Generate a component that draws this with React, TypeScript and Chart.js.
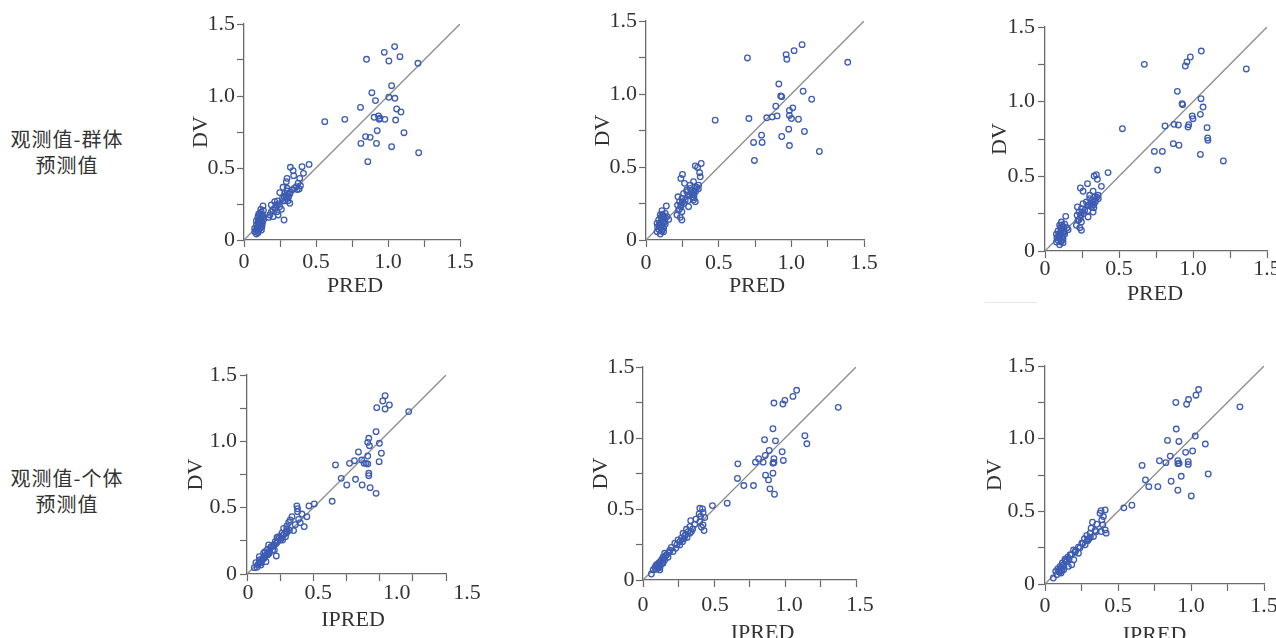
import React, { useEffect, useRef } from 'react';
import { Chart, registerables } from 'chart.js';

Chart.register(...registerables);

// ---------------- data ----------------
const AXIS_MIN = 0;
const AXIS_MAX = 1.5;
const TICK_STEP = 0.25;
const LABELED_TICKS = [0, 0.5, 1.0, 1.5];
const TICK_LABELS = ['0', '0.5', '1.0', '1.5'];
const IDENTITY_LINE = [0, 1.5];
const Y_TITLE = 'DV';
const X_TITLES = ['PRED', 'PRED', 'PRED', 'IPRED', 'IPRED', 'IPRED'];
const ROW_LABELS = [
  ['观测值-群体', '预测值'],
  ['观测值-个体', '预测值'],
];

// Panel 1: DV vs PRED
const P1_X = [
  1.046, 0.974, 1.083, 0.851, 1.006, 1.208, 1.025, 0.888, 1.006, 1.048, 0.913, 0.809, 1.060, 1.090, 0.561, 0.700,
  0.904, 0.934, 0.944, 0.939, 0.978, 1.053, 0.925, 1.111, 0.844, 0.876, 0.812, 0.920, 1.025, 1.213, 0.860,
  0.452, 0.403, 0.322, 0.341, 0.413, 0.299, 0.294, 0.345, 0.387, 0.376, 0.392, 0.364, 0.383, 0.271, 0.299, 0.334,
  0.248, 0.283, 0.318, 0.294, 0.267, 0.306, 0.283, 0.232, 0.213, 0.318, 0.225, 0.190, 0.248, 0.213, 0.260, 0.190,
  0.230, 0.179, 0.237, 0.202, 0.172, 0.278,
  0.290, 0.300, 0.310, 0.280, 0.320, 0.300, 0.350, 0.370, 0.270, 0.240, 0.220, 0.200,
  0.132, 0.116, 0.109, 0.121, 0.097, 0.132, 0.109, 0.086, 0.121, 0.097, 0.128, 0.086, 0.109, 0.074, 0.113, 0.086,
  0.121, 0.074, 0.097, 0.086, 0.109, 0.137, 0.097, 0.125, 0.104,
  0.115, 0.100, 0.125, 0.090, 0.118, 0.105, 0.130, 0.112, 0.095, 0.120, 0.135, 0.102,
];
const P1_Y = [
  1.343, 1.303, 1.273, 1.255, 1.243, 1.227, 1.072, 1.023, 0.991, 0.984, 0.968, 0.921, 0.910, 0.889, 0.822, 0.838,
  0.852, 0.861, 0.845, 0.838, 0.838, 0.833, 0.759, 0.745, 0.718, 0.713, 0.671, 0.671, 0.648, 0.606, 0.544,
  0.525, 0.509, 0.505, 0.481, 0.463, 0.428, 0.405, 0.447, 0.428, 0.394, 0.377, 0.370, 0.354, 0.366, 0.359, 0.347,
  0.329, 0.324, 0.319, 0.301, 0.289, 0.273, 0.273, 0.271, 0.266, 0.255, 0.243, 0.243, 0.231, 0.220, 0.213, 0.197,
  0.197, 0.174, 0.174, 0.162, 0.157, 0.139,
  0.310, 0.290, 0.300, 0.300, 0.330, 0.340, 0.360, 0.350, 0.270, 0.250, 0.220, 0.210,
  0.236, 0.213, 0.185, 0.174, 0.162, 0.157, 0.144, 0.134, 0.134, 0.116, 0.116, 0.104, 0.097, 0.081, 0.081, 0.069,
  0.069, 0.058, 0.051, 0.042, 0.127, 0.144, 0.093, 0.093, 0.111,
  0.150, 0.140, 0.125, 0.088, 0.105, 0.075, 0.170, 0.165, 0.060, 0.195, 0.205, 0.180,
];

// Panel 2: DV vs PRED
const P2_X = [
  1.074, 1.019, 0.964, 0.969, 0.698, 1.388, 0.914, 0.927, 0.934, 1.081, 1.140, 0.893, 1.010, 0.987, 0.987, 1.001,
  1.049, 0.902, 0.868, 0.831, 0.708, 0.476, 0.982, 1.090, 0.934, 0.795, 0.799, 0.740, 0.987, 1.193, 0.746,
  0.380, 0.339, 0.355, 0.369, 0.251, 0.240, 0.373, 0.327, 0.265, 0.362, 0.339, 0.304, 0.281, 0.327, 0.259, 0.293,
  0.316, 0.220, 0.247, 0.270, 0.327, 0.231, 0.339, 0.217, 0.240, 0.293, 0.224, 0.247, 0.213, 0.236, 0.247, 0.281,
  0.304, 0.316,
  0.140, 0.110, 0.133, 0.098, 0.144, 0.110, 0.087, 0.126, 0.098, 0.133, 0.080, 0.117, 0.087, 0.110, 0.076, 0.098,
  0.121, 0.094, 0.103, 0.121, 0.156, 0.076, 0.121,
  0.105, 0.118, 0.125, 0.092, 0.113, 0.130, 0.100, 0.108, 0.300, 0.320, 0.350, 0.330, 0.290, 0.260,
  0.240, 0.250, 0.230, 0.330, 0.340, 0.360,
];
const P2_Y = [
  1.338, 1.297, 1.270, 1.238, 1.247, 1.217, 1.069, 0.987, 0.982, 1.019, 0.964, 0.916, 0.905, 0.887, 0.853, 0.832,
  0.827, 0.850, 0.843, 0.837, 0.832, 0.821, 0.759, 0.743, 0.709, 0.718, 0.668, 0.668, 0.647, 0.606, 0.545,
  0.524, 0.508, 0.497, 0.461, 0.449, 0.422, 0.433, 0.399, 0.388, 0.376, 0.365, 0.353, 0.342, 0.331, 0.319, 0.308,
  0.296, 0.296, 0.285, 0.274, 0.274, 0.262, 0.262, 0.239, 0.228, 0.228, 0.205, 0.194, 0.171, 0.155, 0.137, 0.331,
  0.376, 0.319,
  0.233, 0.201, 0.182, 0.171, 0.160, 0.148, 0.137, 0.132, 0.114, 0.109, 0.091, 0.091, 0.073, 0.068, 0.057, 0.041,
  0.057, 0.096, 0.155, 0.164, 0.141, 0.114, 0.080,
  0.125, 0.118, 0.150, 0.105, 0.175, 0.125, 0.085, 0.060, 0.310, 0.340, 0.360, 0.290, 0.270, 0.250,
  0.240, 0.260, 0.210, 0.310, 0.330, 0.350,
];

// Panel 3: DV vs PRED
const P3_X = [
  1.056, 0.982, 0.959, 0.948, 0.671, 1.360, 0.894, 0.926, 0.930, 1.054, 1.068, 0.995, 1.050, 1.000, 0.872, 0.901,
  0.971, 0.966, 1.095, 0.811, 0.523, 1.099, 1.101, 0.867, 0.905, 0.739, 0.793, 1.050, 1.205, 0.761,
  0.426, 0.347, 0.332, 0.354, 0.287, 0.239, 0.257, 0.325, 0.381, 0.359, 0.336, 0.302, 0.280, 0.325, 0.257, 0.291,
  0.314, 0.219, 0.246, 0.268, 0.325, 0.230, 0.217, 0.239, 0.291, 0.223, 0.246, 0.212, 0.235, 0.246, 0.302, 0.314,
  0.140, 0.111, 0.133, 0.099, 0.149, 0.111, 0.088, 0.126, 0.099, 0.133, 0.081, 0.117, 0.088, 0.111, 0.077, 0.099,
  0.122, 0.095, 0.104, 0.122, 0.156, 0.077, 0.122,
  0.105, 0.118, 0.125, 0.092, 0.113, 0.130, 0.100, 0.108, 0.300, 0.320, 0.350, 0.330, 0.290, 0.260,
  0.240, 0.250, 0.230, 0.330, 0.340, 0.360,
];
const P3_Y = [
  1.339, 1.299, 1.266, 1.239, 1.250, 1.219, 1.069, 0.987, 0.980, 1.020, 0.964, 0.904, 0.915, 0.886, 0.848, 0.844,
  0.846, 0.830, 0.826, 0.837, 0.819, 0.757, 0.741, 0.719, 0.708, 0.667, 0.667, 0.647, 0.603, 0.542,
  0.525, 0.511, 0.502, 0.480, 0.451, 0.422, 0.400, 0.400, 0.433, 0.373, 0.362, 0.351, 0.328, 0.328, 0.317, 0.306,
  0.295, 0.295, 0.284, 0.273, 0.261, 0.261, 0.239, 0.223, 0.228, 0.206, 0.194, 0.172, 0.156, 0.139, 0.373, 0.317,
  0.232, 0.194, 0.179, 0.172, 0.156, 0.150, 0.134, 0.134, 0.112, 0.112, 0.089, 0.094, 0.072, 0.067, 0.060, 0.042,
  0.056, 0.098, 0.156, 0.165, 0.143, 0.112, 0.078,
  0.125, 0.118, 0.150, 0.105, 0.175, 0.125, 0.085, 0.060, 0.310, 0.340, 0.360, 0.290, 0.270, 0.250,
  0.240, 0.260, 0.210, 0.310, 0.330, 0.350,
];

// Panel 4: DV vs IPRED
const P4_X = [
  1.041, 1.023, 1.073, 0.978, 1.041, 1.219, 0.973, 0.918, 0.910, 0.998, 0.923, 0.840, 1.013, 0.910, 0.865, 0.810,
  0.898, 0.883, 0.910, 0.773, 0.996, 0.667, 0.918, 0.918, 0.710, 0.818, 0.752, 0.868, 0.928, 0.973, 0.642,
  0.507, 0.467, 0.376, 0.381, 0.451, 0.414, 0.339, 0.381, 0.389, 0.401, 0.431, 0.364, 0.351, 0.314, 0.326, 0.301,
  0.276, 0.296, 0.263, 0.238, 0.251, 0.213, 0.226, 0.221, 0.201, 0.181, 0.163, 0.206,
  0.055, 0.080, 0.105, 0.093, 0.118, 0.130, 0.143, 0.155, 0.168, 0.135, 0.193, 0.181, 0.206, 0.105, 0.067, 0.125,
  0.230, 0.243, 0.268, 0.093, 0.075, 0.155,
  0.110, 0.120, 0.140, 0.100, 0.160, 0.090, 0.130, 0.150, 0.170, 0.200, 0.220, 0.260, 0.280, 0.300, 0.290, 0.320,
  0.300, 0.270,
];
const P4_Y = [
  1.344, 1.304, 1.274, 1.254, 1.244, 1.224, 1.073, 1.023, 0.992, 0.985, 0.967, 0.920, 0.910, 0.889, 0.859, 0.854,
  0.834, 0.834, 0.829, 0.834, 0.847, 0.822, 0.759, 0.741, 0.721, 0.714, 0.671, 0.671, 0.651, 0.608, 0.548,
  0.528, 0.513, 0.513, 0.492, 0.432, 0.452, 0.432, 0.470, 0.412, 0.387, 0.357, 0.372, 0.327, 0.389, 0.407, 0.362,
  0.344, 0.319, 0.307, 0.281, 0.256, 0.244, 0.276, 0.136, 0.219, 0.201, 0.219, 0.181,
  0.048, 0.068, 0.085, 0.106, 0.118, 0.131, 0.093, 0.143, 0.156, 0.168, 0.181, 0.206, 0.219, 0.068, 0.085, 0.156,
  0.244, 0.269, 0.256, 0.131, 0.050, 0.186,
  0.100, 0.110, 0.140, 0.090, 0.160, 0.080, 0.120, 0.150, 0.170, 0.210, 0.230, 0.270, 0.300, 0.310, 0.280, 0.330,
  0.340, 0.290,
];

// Panel 5: DV vs IPRED
const P5_X = [
  1.082, 1.056, 0.999, 0.922, 0.985, 1.375, 0.915, 0.856, 0.933, 1.140, 1.154, 0.889, 0.980, 0.861, 0.814, 0.792,
  0.846, 0.922, 0.915, 0.922, 0.988, 0.668, 0.915, 0.863, 0.665, 0.884, 0.710, 0.778, 0.894, 0.926, 0.593, 0.489,
  0.400, 0.419, 0.423, 0.395, 0.405, 0.435, 0.336, 0.372, 0.400, 0.423, 0.412, 0.430, 0.365, 0.330, 0.306, 0.318,
  0.282, 0.294, 0.271, 0.278, 0.247, 0.224, 0.231, 0.200, 0.188, 0.153, 0.165, 0.141, 0.130, 0.113, 0.094, 0.083,
  0.071, 0.059, 0.106, 0.122, 0.153, 0.176, 0.141, 0.118, 0.212, 0.259, 0.341,
  0.100, 0.110, 0.125, 0.135, 0.090, 0.145, 0.160, 0.180, 0.120, 0.100, 0.300, 0.310, 0.290, 0.330, 0.350, 0.260,
  0.240, 0.190,
];
const P5_Y = [
  1.336, 1.293, 1.265, 1.246, 1.239, 1.216, 1.065, 0.988, 0.980, 1.016, 0.959, 0.912, 0.903, 0.877, 0.854, 0.830,
  0.830, 0.854, 0.823, 0.828, 0.842, 0.818, 0.752, 0.738, 0.715, 0.705, 0.665, 0.665, 0.642, 0.604, 0.541, 0.524,
  0.505, 0.501, 0.475, 0.465, 0.447, 0.440, 0.418, 0.428, 0.411, 0.388, 0.371, 0.348, 0.393, 0.376, 0.357, 0.341,
  0.329, 0.310, 0.294, 0.270, 0.282, 0.259, 0.223, 0.230, 0.200, 0.188, 0.176, 0.160, 0.141, 0.122, 0.106, 0.089,
  0.071, 0.042, 0.082, 0.106, 0.141, 0.160, 0.118, 0.071, 0.200, 0.247, 0.341,
  0.095, 0.100, 0.130, 0.120, 0.075, 0.150, 0.170, 0.190, 0.090, 0.110, 0.320, 0.300, 0.290, 0.330, 0.360, 0.270,
  0.250, 0.210,
];

// Panel 6: DV vs IPRED
const P6_X = [
  1.052, 1.034, 0.983, 0.896, 0.970, 1.335, 0.899, 0.839, 0.917, 1.029, 1.098, 0.963, 1.011, 0.858, 0.784, 0.828,
  0.910, 0.910, 0.919, 0.981, 0.981, 0.665, 1.118, 0.933, 0.688, 0.864, 0.711, 0.773, 0.910, 1.002, 0.595, 0.540,
  0.412, 0.384, 0.377, 0.400, 0.389, 0.325, 0.355, 0.396, 0.412, 0.419, 0.384, 0.343, 0.316, 0.309, 0.286, 0.270,
  0.293, 0.252, 0.275, 0.229, 0.195, 0.206, 0.172, 0.156, 0.137, 0.149, 0.119, 0.103, 0.087, 0.073, 0.057, 0.110,
  0.128, 0.183, 0.197, 0.160, 0.080, 0.229, 0.332,
  0.095, 0.110, 0.120, 0.130, 0.100, 0.140, 0.165, 0.180, 0.300, 0.310, 0.290, 0.260, 0.240, 0.350, 0.210, 0.115,
];
const P6_Y = [
  1.338, 1.299, 1.269, 1.249, 1.237, 1.219, 1.066, 0.988, 0.981, 1.018, 0.963, 0.906, 0.915, 0.880, 0.848, 0.835,
  0.848, 0.828, 0.830, 0.842, 0.823, 0.816, 0.757, 0.741, 0.716, 0.707, 0.670, 0.670, 0.645, 0.606, 0.542, 0.524,
  0.510, 0.505, 0.487, 0.464, 0.441, 0.425, 0.411, 0.407, 0.372, 0.350, 0.361, 0.368, 0.384, 0.350, 0.334, 0.311,
  0.299, 0.281, 0.270, 0.253, 0.235, 0.219, 0.201, 0.185, 0.171, 0.155, 0.144, 0.121, 0.103, 0.087, 0.041, 0.075,
  0.098, 0.132, 0.167, 0.121, 0.064, 0.212, 0.327,
  0.090, 0.110, 0.130, 0.120, 0.080, 0.160, 0.170, 0.200, 0.310, 0.320, 0.300, 0.280, 0.250, 0.360, 0.230, 0.095,
];

const PANEL_X = [P1_X, P2_X, P3_X, P4_X, P5_X, P6_X];
const PANEL_Y = [P1_Y, P2_Y, P3_Y, P4_Y, P5_Y, P6_Y];

// ---------------- layout & style ----------------
// plot-area rectangles in page pixels + label offsets
const LAYOUT = [
  { l: 244, t: 24, r: 460, b: 240, yTitle: 43, xTitle: 46.5, yPad: 2, xPad: 2, xTitleShift: 3, xShifts: [0, 0, 0, 0] },
  { l: 646, t: 21, r: 864, b: 240, yTitle: 43, xTitle: 46.5, yPad: 2, xPad: 3, xTitleShift: 2, xShifts: [0, 0, 0, 0] },
  { l: 1045, t: 27, r: 1267, b: 251, yTitle: 44.5, xTitle: 43, yPad: 3, xPad: -2, xTitleShift: -1, xShifts: [0, 0, 0, 0] },
  { l: 247, t: 375, r: 446, b: 574, yTitle: 51, xTitle: 46.5, yPad: 3, xPad: -1, xTitleShift: 6.5, xShifts: [1, 5, 17, 21] },
  { l: 643, t: 367, r: 856, b: 580, yTitle: 42, xTitle: 53, yPad: 1.5, xPad: 5, xTitleShift: 13, xShifts: [0, 1, 4, 4] },
  { l: 1045, t: 366, r: 1264, b: 584, yTitle: 50, xTitle: 51, yPad: 3, xPad: 2, xTitleShift: 0, xShifts: [0, 0, 0, 0] },
];
const PAD_L = 78;
const PAD_T = 26;
const PAD_R = 48;
const PAD_B = 82;
const TICK_LEN = 7;

const SERIF = "'Liberation Serif', 'Times New Roman', Times, serif";
const TEXT_COLOR = '#333333';
const AXIS_COLOR = '#6a6a6a';
const LINE_COLOR = '#8c8c8c';
const POINT_COLOR = '#3d5cb3';
const FONT_SIZE = 22;
const HALF_LINE = (FONT_SIZE * 1.2) / 2;

function tickLabel(value: number) {
  const i = LABELED_TICKS.findIndex((v) => Math.abs(v - value) < 1e-6);
  return i >= 0 ? TICK_LABELS[i] : '';
}

function Panel({ index }: { index: number }) {
  const ref = useRef<HTMLCanvasElement | null>(null);
  const g = LAYOUT[index];
  const w = g.r - g.l + PAD_L + PAD_R;
  const h = g.b - g.t + PAD_T + PAD_B;

  useEffect(() => {
    if (!ref.current) return;
    const xs = PANEL_X[index];
    const ys = PANEL_Y[index];
    const points = xs.map((x, i) => ({ x, y: ys[i] }));
    const line = IDENTITY_LINE.map((v) => ({ x: v, y: v }));

    // x-axis tick labels and title, placed through the x scale
    const xAxisText = {
      id: 'xAxisText',
      afterDraw(chart: any) {
        const s = chart.scales.x;
        const ctx = chart.ctx as CanvasRenderingContext2D;
        ctx.save();
        ctx.fillStyle = TEXT_COLOR;
        ctx.font = `${FONT_SIZE}px ${SERIF}`;
        ctx.textAlign = 'center';
        ctx.textBaseline = 'middle';
        const ly = s.top + TICK_LEN + g.xPad + HALF_LINE;
        LABELED_TICKS.forEach((v, i) => {
          ctx.fillText(TICK_LABELS[i], s.getPixelForValue(v) + g.xShifts[i], ly);
        });
        const cx = (chart.chartArea.left + chart.chartArea.right) / 2 + g.xTitleShift;
        ctx.fillText(X_TITLES[index], cx, s.top + g.xTitle);
        ctx.restore();
      },
    };

    const chart = new Chart(ref.current, {
      type: 'scatter',
      data: {
        datasets: [
          {
            type: 'line',
            data: line,
            borderColor: LINE_COLOR,
            borderWidth: 1.3,
            pointRadius: 0,
            fill: false,
            order: 2,
          } as any,
          {
            data: points,
            pointRadius: 2.8,
            pointBorderWidth: 1.3,
            pointBorderColor: POINT_COLOR,
            pointBackgroundColor: 'rgba(255,255,255,0)',
            borderColor: POINT_COLOR,
            backgroundColor: 'rgba(255,255,255,0)',
            order: 1,
          },
        ],
      },
      options: {
        animation: false,
        responsive: false,
        devicePixelRatio: 1,
        events: [],
        layout: { padding: { left: 0, top: PAD_T, right: PAD_R, bottom: 0 } },
        plugins: { legend: { display: false }, tooltip: { enabled: false } },
        scales: {
          x: {
            type: 'linear',
            min: AXIS_MIN,
            max: AXIS_MAX,
            afterFit: (s: any) => {
              s.height = PAD_B;
            },
            ticks: {
              stepSize: TICK_STEP,
              autoSkip: false,
              maxRotation: 0,
              color: TEXT_COLOR,
              font: { family: SERIF, size: FONT_SIZE },
              callback: () => '',
            },
            grid: {
              drawOnChartArea: false,
              drawTicks: true,
              tickLength: TICK_LEN,
              tickWidth: 1.2,
              tickColor: AXIS_COLOR,
            },
            border: { display: true, color: AXIS_COLOR, width: 1.3 },
            title: { display: false },
          },
          y: {
            type: 'linear',
            min: AXIS_MIN,
            max: AXIS_MAX,
            afterFit: (s: any) => {
              s.width = PAD_L;
            },
            ticks: {
              stepSize: TICK_STEP,
              autoSkip: false,
              padding: g.yPad,
              color: TEXT_COLOR,
              font: { family: SERIF, size: FONT_SIZE },
              callback: (v: any) => tickLabel(Number(v)),
            },
            grid: {
              drawOnChartArea: false,
              drawTicks: true,
              tickLength: TICK_LEN,
              tickWidth: 1.2,
              tickColor: AXIS_COLOR,
            },
            border: { display: true, color: AXIS_COLOR, width: 1.3 },
            title: {
              display: true,
              text: Y_TITLE,
              color: TEXT_COLOR,
              font: { family: SERIF, size: FONT_SIZE },
              padding: { top: PAD_L - g.yTitle - HALF_LINE, bottom: 0 },
            },
          },
        },
      },
      plugins: [xAxisText],
    });
    return () => chart.destroy();
  }, [index]);

  return (
    <canvas
      ref={ref}
      width={w}
      height={h}
      style={{
        position: 'absolute',
        left: g.l - PAD_L,
        top: g.t - PAD_T,
        width: w,
        height: h,
      }}
    />
  );
}

const ROW_LABEL_TOPS = [126, 465];

export default function App() {
  return (
    <div
      style={{
        position: 'fixed',
        left: 0,
        top: 0,
        width: 1276,
        height: 638,
        overflow: 'hidden',
        background: '#ffffff',
      }}
    >
      {ROW_LABELS.map((lines, r) => (
        <div
          key={r}
          style={{
            position: 'absolute',
            left: 0,
            top: ROW_LABEL_TOPS[r],
            width: 134,
            textAlign: 'center',
            fontFamily: "'Noto Sans CJK SC', 'Noto Sans', sans-serif",
            fontSize: 20,
            lineHeight: '26px',
            letterSpacing: '1px',
            color: TEXT_COLOR,
          }}
        >
          {lines.map((t, i) => (
            <div key={i}>{t}</div>
          ))}
        </div>
      ))}
      {LAYOUT.map((_, i) => (
        <Panel key={i} index={i} />
      ))}
      <div
        style={{
          position: 'absolute',
          left: 985,
          top: 302,
          width: 52,
          height: 1,
          background: '#e6e6e6',
        }}
      />
    </div>
  );
}
